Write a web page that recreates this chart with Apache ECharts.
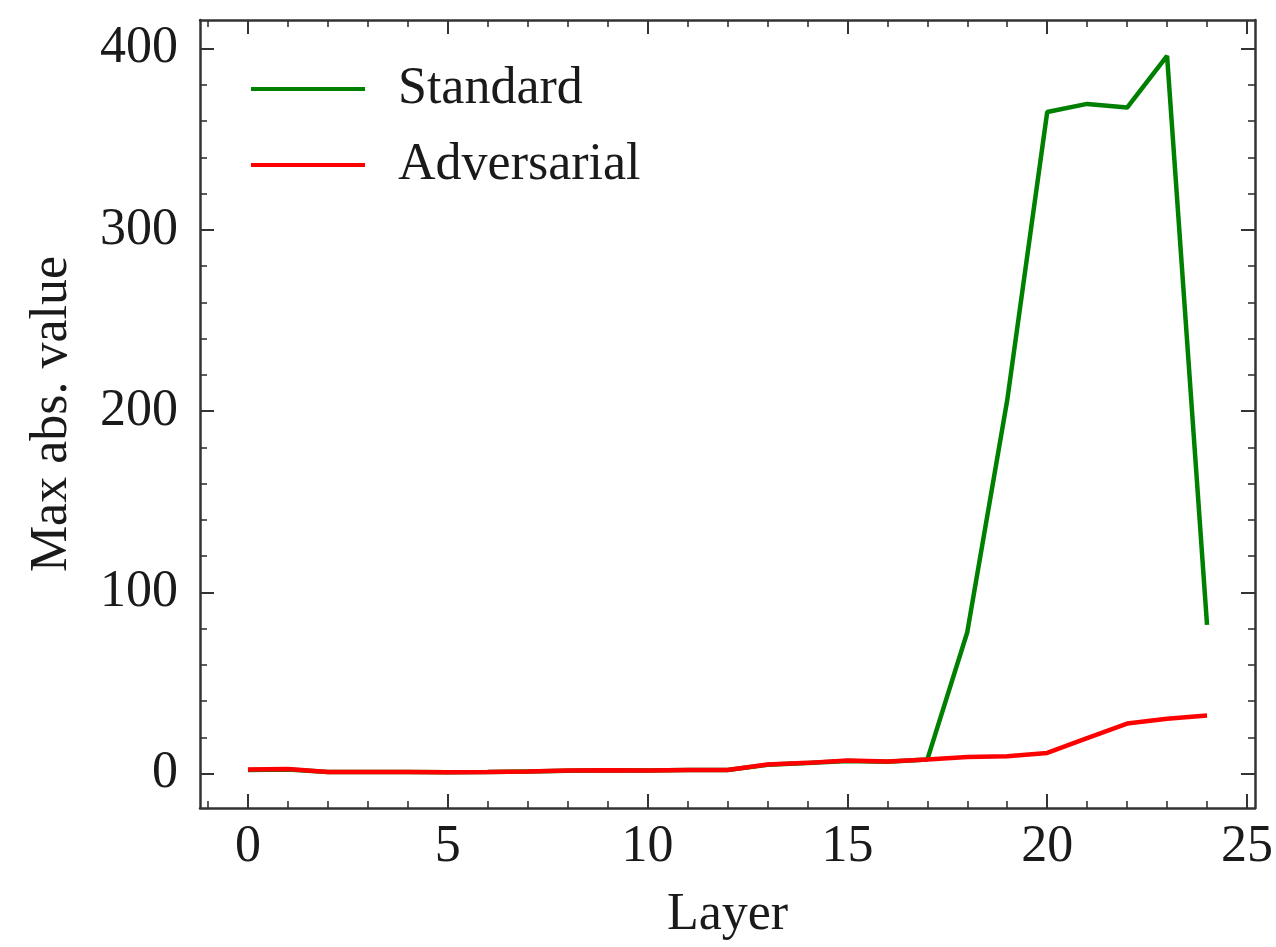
<!DOCTYPE html>
<html>
<head>
<meta charset="utf-8">
<script src="https://cdn.jsdelivr.net/npm/echarts@6/dist/echarts.min.js"></script>
<style>
  html, body { margin: 0; padding: 0; background: #fff; }
  #chart { width: 1276px; height: 947px; }
</style>
</head>
<body>
<div id="chart"></div>
<script>
var layers = [0, 1, 2, 3, 4, 5, 6, 7, 8, 9, 10, 11, 12, 13, 14, 15, 16, 17, 18, 19, 20, 21, 22, 23, 24];
var standard = [2.0, 2.3, 0.8, 0.8, 0.9, 0.7, 0.8, 1.2, 1.6, 1.8, 1.7, 1.9, 2.0, 4.8, 5.8, 7.0, 6.5, 7.7, 78, 206, 365, 369.5, 367.5, 396, 82];
var adversarial = [2.2, 2.5, 0.8, 0.8, 0.9, 0.7, 0.8, 1.2, 1.7, 1.8, 1.7, 1.9, 2.0, 5.0, 5.9, 7.2, 6.6, 7.7, 9.2, 9.6, 11.4, 19.6, 27.6, 30.2, 32.0];
var xMajor = [0, 5, 10, 15, 20, 25];
var xMinor = [-1, 1, 2, 3, 4, 6, 7, 8, 9, 11, 12, 13, 14, 16, 17, 18, 19, 21, 22, 23, 24];
var yMajor = [0, 100, 200, 300, 400];
var yMinor = [20, 40, 60, 80, 120, 140, 160, 180, 220, 240, 260, 280, 320, 340, 360, 380];

var font = 'Liberation Serif';
var ink = '#1a1a1a';

function pairs(ys) {
  return layers.map(function (x, i) { return [x, ys[i]]; });
}

function xAxisDef(pos, ticks, len, major) {
  return {
    type: 'value', position: pos, min: -1.2, max: 25.2,
    splitLine: { show: false },
    axisLine: { show: major, onZero: false, lineStyle: { color: '#333', width: 2.5 } },
    axisTick: { show: true, inside: true, length: len, customValues: ticks,
      lineStyle: { color: '#333', width: major ? 2 : 1.6 } },
    axisLabel: (major && pos === 'bottom') ? {
      show: true, customValues: ticks, margin: 13,
      fontFamily: font, fontSize: 52, color: ink
    } : { show: false },
    name: (major && pos === 'bottom') ? 'Layer' : '',
    nameLocation: 'middle', nameGap: 81,
    nameTextStyle: { fontFamily: font, fontSize: 52, color: ink }
  };
}

function yAxisDef(pos, ticks, len, major) {
  return {
    type: 'value', position: pos, min: -19, max: 415.8,
    splitLine: { show: false },
    axisLine: { show: major, onZero: false, lineStyle: { color: '#333', width: 2.5 } },
    axisTick: { show: true, inside: true, length: len, customValues: ticks,
      lineStyle: { color: '#333', width: major ? 2 : 1.6 } },
    axisLabel: (major && pos === 'left') ? {
      show: true, customValues: ticks, margin: 22,
      fontFamily: font, fontSize: 52, color: ink
    } : { show: false },
    name: (major && pos === 'left') ? 'Max abs. value' : '',
    nameLocation: 'middle', nameGap: 122,
    nameTextStyle: { fontFamily: font, fontSize: 52, color: ink }
  };
}

var chart = echarts.init(document.getElementById('chart'));
chart.setOption({
  animation: false,
  backgroundColor: '#fff',
  grid: { left: 200, right: 21, top: 20, bottom: 139 },
  legend: {
    orient: 'vertical', left: 246, top: 58,
    icon: 'rect', itemWidth: 114, itemHeight: 4, itemGap: 24,
    textStyle: { fontFamily: font, fontSize: 52, color: ink, padding: [0, 0, 0, 28] },
    data: ['Standard', 'Adversarial']
  },
  xAxis: [
    xAxisDef('bottom', xMajor, 14, true),
    xAxisDef('bottom', xMinor, 7, false),
    xAxisDef('top', xMajor, 14, true),
    xAxisDef('top', xMinor, 7, false)
  ],
  yAxis: [
    yAxisDef('left', yMajor, 14, true),
    yAxisDef('left', yMinor, 7, false),
    yAxisDef('right', yMajor, 14, true),
    yAxisDef('right', yMinor, 7, false)
  ],
  series: [
    {
      name: 'Standard', type: 'line', xAxisIndex: 0, yAxisIndex: 0,
      showSymbol: false, symbol: 'none',
      itemStyle: { color: '#008000' },
      lineStyle: { color: '#008000', width: 4.5 },
      data: pairs(standard)
    },
    {
      name: 'Adversarial', type: 'line', xAxisIndex: 0, yAxisIndex: 0,
      showSymbol: false, symbol: 'none',
      itemStyle: { color: '#ff0000' },
      lineStyle: { color: '#ff0000', width: 4.5 },
      data: pairs(adversarial)
    }
  ]
});
</script>
</body>
</html>
